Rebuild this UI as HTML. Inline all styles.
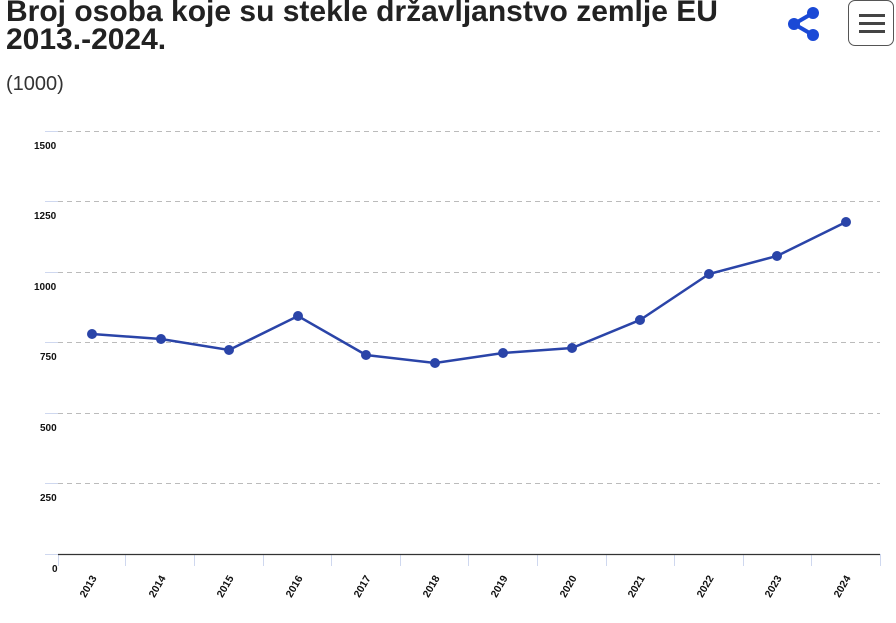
<!DOCTYPE html>
<html><head><meta charset="utf-8"><style>
body{margin:0;width:896px;height:623px;overflow:hidden;background:#fff;font-family:"Liberation Sans",sans-serif;}
h1{position:absolute;left:6px;top:-2px;margin:0;font-size:30px;line-height:28px;font-weight:bold;color:#222;}
.unit{position:absolute;left:6px;top:73px;font-size:20px;color:#333;}
.menu{position:absolute;left:848px;top:0;width:46px;height:46px;border:1.5px solid #555;border-radius:7px;box-sizing:border-box;}
.menu i{position:absolute;left:10px;width:26px;height:3px;background:#444;}
</style></head><body>
<h1>Broj osoba koje su stekle državljanstvo zemlje EU<br>2013.-2024.</h1>
<div class="unit">(1000)</div>
<svg style="position:absolute;left:784px;top:6px" width="40" height="40"><line x1="10" y1="18" x2="29" y2="7" stroke="#1a49d6" stroke-width="4"/><line x1="10" y1="18" x2="29" y2="29" stroke="#1a49d6" stroke-width="4"/><circle cx="29" cy="7" r="6" fill="#1a49d6"/><circle cx="10" cy="18" r="6" fill="#1a49d6"/><circle cx="29" cy="29" r="6" fill="#1a49d6"/></svg>
<div class="menu"><i style="top:13px"></i><i style="top:21px"></i><i style="top:29px"></i></div>
<svg style="position:absolute;left:0;top:0" width="896" height="623" font-family="Liberation Sans, sans-serif">
<g stroke="#bbb" stroke-dasharray="5,4" stroke-width="1">
<line x1="58" x2="880" y1="131.5" y2="131.5"/><line x1="58" x2="880" y1="201.5" y2="201.5"/><line x1="58" x2="880" y1="272.5" y2="272.5"/><line x1="58" x2="880" y1="342.5" y2="342.5"/><line x1="58" x2="880" y1="413.5" y2="413.5"/><line x1="58" x2="880" y1="483.5" y2="483.5"/>
</g>
<g stroke="#cfd8ef" stroke-width="1">
<line x1="45" x2="58" y1="131.5" y2="131.5"/><line x1="45" x2="58" y1="201.5" y2="201.5"/><line x1="45" x2="58" y1="272.5" y2="272.5"/><line x1="45" x2="58" y1="342.5" y2="342.5"/><line x1="45" x2="58" y1="413.5" y2="413.5"/><line x1="45" x2="58" y1="483.5" y2="483.5"/><line x1="45" x2="58" y1="554.5" y2="554.5"/>
<line x1="58.5" x2="58.5" y1="554" y2="566"/><line x1="125.5" x2="125.5" y1="554" y2="566"/><line x1="194.5" x2="194.5" y1="554" y2="566"/><line x1="263.5" x2="263.5" y1="554" y2="566"/><line x1="331.5" x2="331.5" y1="554" y2="566"/><line x1="400.5" x2="400.5" y1="554" y2="566"/><line x1="468.5" x2="468.5" y1="554" y2="566"/><line x1="537.5" x2="537.5" y1="554" y2="566"/><line x1="606.5" x2="606.5" y1="554" y2="566"/><line x1="674.5" x2="674.5" y1="554" y2="566"/><line x1="743.5" x2="743.5" y1="554" y2="566"/><line x1="811.5" x2="811.5" y1="554" y2="566"/><line x1="880.5" x2="880.5" y1="554" y2="566"/>
</g>
<line x1="58" x2="880" y1="554.5" y2="554.5" stroke="#333" stroke-width="1.3"/>
<g font-size="10" font-weight="bold" fill="#111">
<text x="34" y="149">1500</text><text x="34" y="219">1250</text><text x="34" y="290">1000</text><text x="40" y="360">750</text><text x="40" y="431">500</text><text x="40" y="501">250</text><text x="52" y="572">0</text>
</g>
<g font-size="10.5" font-weight="bold" fill="#111" text-anchor="end">
<text transform="translate(97,578) rotate(-60)">2013</text>
<text transform="translate(166,578) rotate(-60)">2014</text>
<text transform="translate(234,578) rotate(-60)">2015</text>
<text transform="translate(303,578) rotate(-60)">2016</text>
<text transform="translate(371,578) rotate(-60)">2017</text>
<text transform="translate(440,578) rotate(-60)">2018</text>
<text transform="translate(508,578) rotate(-60)">2019</text>
<text transform="translate(577,578) rotate(-60)">2020</text>
<text transform="translate(645,578) rotate(-60)">2021</text>
<text transform="translate(714,578) rotate(-60)">2022</text>
<text transform="translate(782,578) rotate(-60)">2023</text>
<text transform="translate(851,578) rotate(-60)">2024</text>
</g>
<polyline fill="none" stroke="#2a44a8" stroke-width="2.5" points="92,334 161,339 229,350 298,316 366,355 435,363 503,353 572,348 640,320 709,274 777,256 846,222"/>
<g fill="#2a44a8">
<circle cx="92" cy="334" r="5"/><circle cx="161" cy="339" r="5"/><circle cx="229" cy="350" r="5"/><circle cx="298" cy="316" r="5"/><circle cx="366" cy="355" r="5"/><circle cx="435" cy="363" r="5"/><circle cx="503" cy="353" r="5"/><circle cx="572" cy="348" r="5"/><circle cx="640" cy="320" r="5"/><circle cx="709" cy="274" r="5"/><circle cx="777" cy="256" r="5"/><circle cx="846" cy="222" r="5"/>
</g>
</svg>
</body></html>
